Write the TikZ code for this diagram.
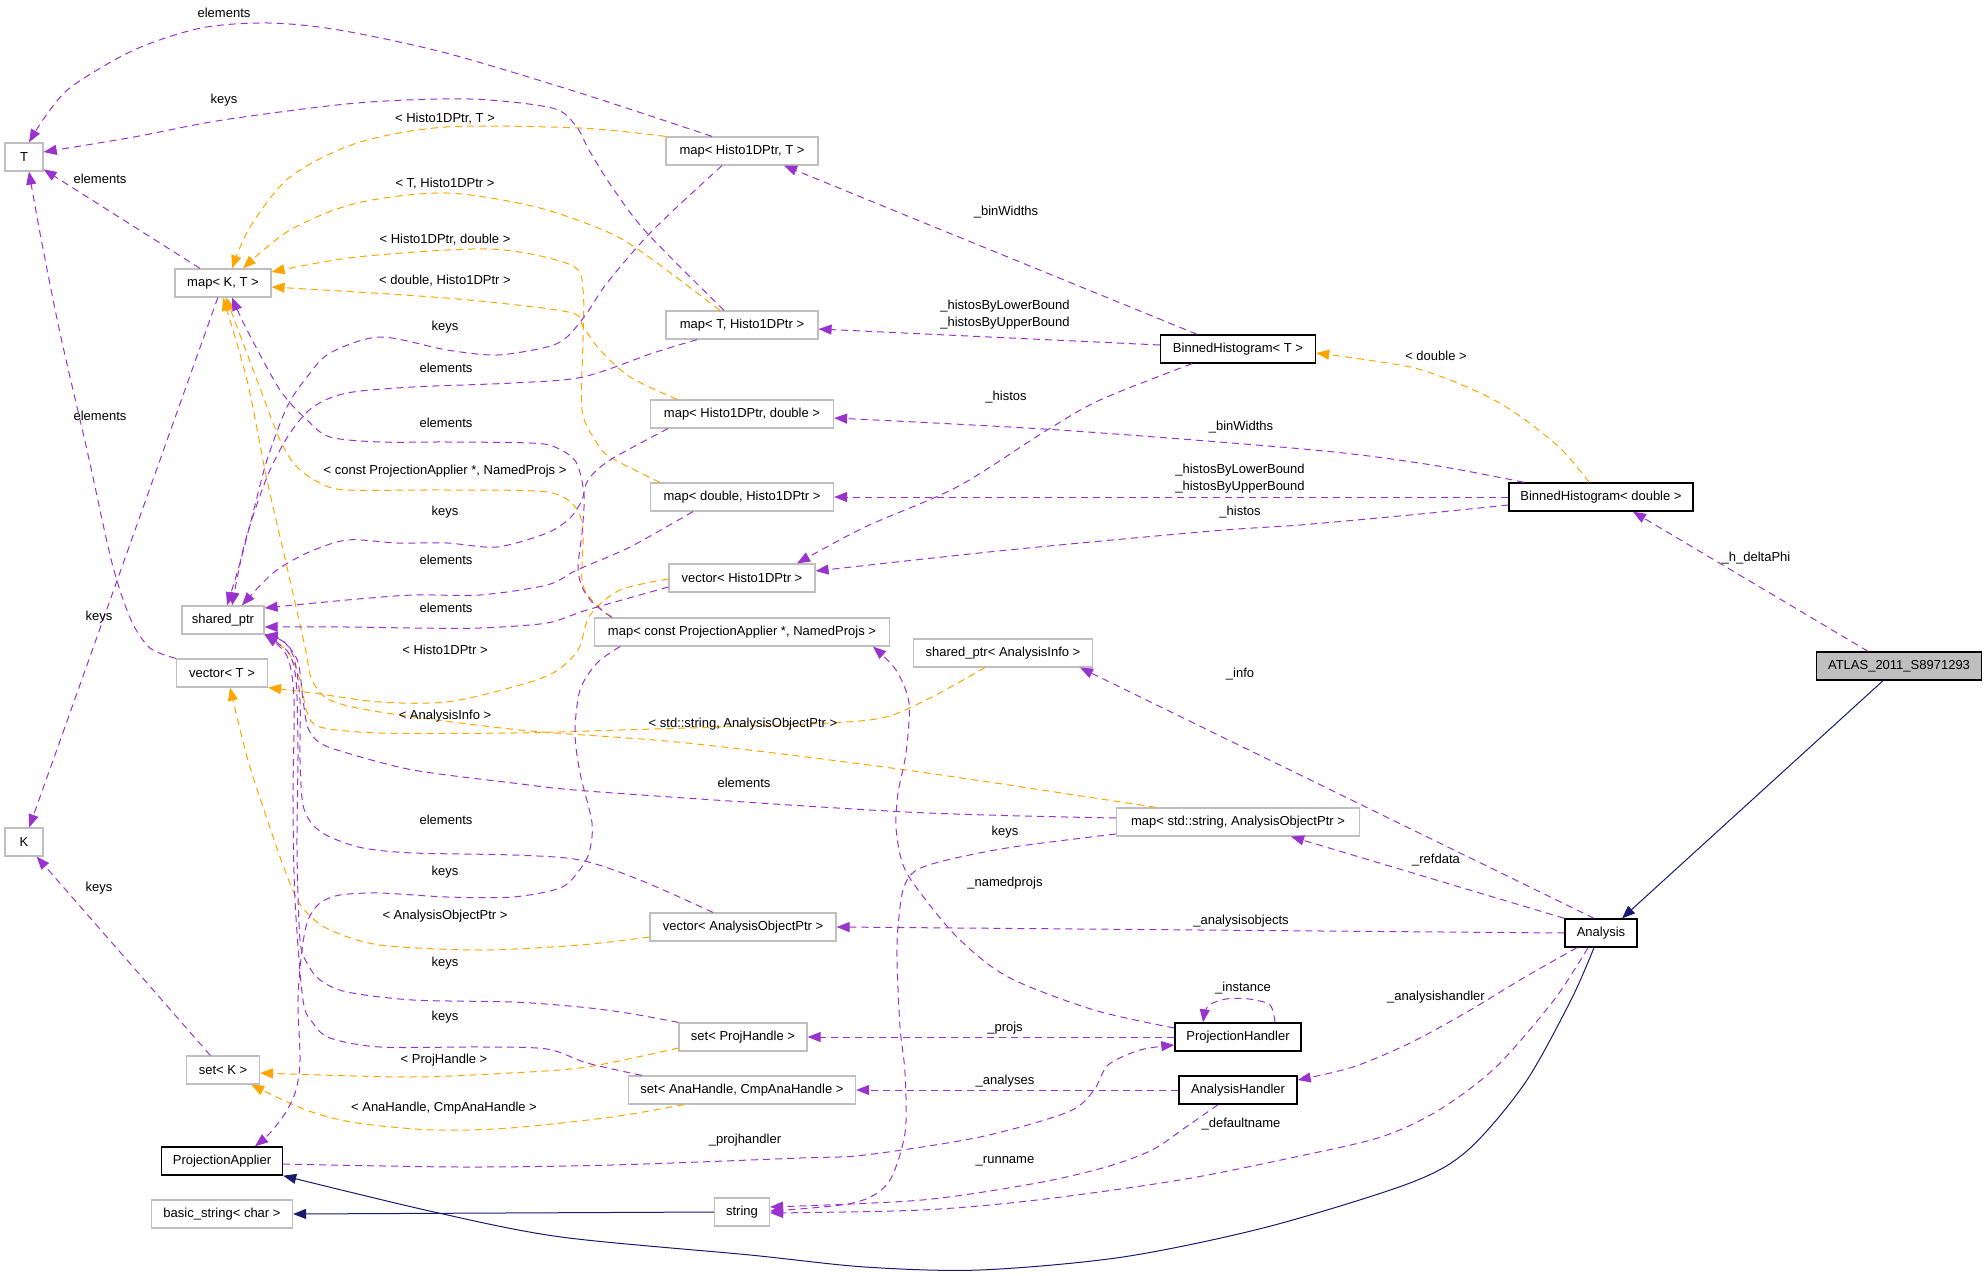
\documentclass[tikz,border=0pt]{standalone}
\usepackage{fontspec}
\newfontfamily\dgfont{Liberation Sans}
\usetikzlibrary{arrows.meta}
\definecolor{usepurple}{HTML}{9A32CD}
\definecolor{tmplorange}{HTML}{FFA500}
\definecolor{inhblue}{HTML}{191970}
\definecolor{boxgray}{HTML}{BFBFBF}
\tikzset{
  cls/.style={draw=boxgray, line width=1.2pt, fill=white, minimum height=28pt, inner sep=0pt,
    font=\dgfont\fontsize{13}{15}\selectfont},
  clsb/.style={cls, draw=black, line width=1.4pt},
  lbl/.style={inner sep=0pt, align=center, font=\dgfont\fontsize{13}{17}\selectfont},
  useedge/.style={draw=usepurple, line width=1pt, dash pattern=on 7pt off 5pt,
    -{Triangle[length=13pt,width=10pt]}},
  tmpledge/.style={useedge, draw=tmplorange},
  inhedge/.style={draw=inhblue, line width=1pt, -{Triangle[length=13pt,width=10pt]}},
  sm/.style={smooth, tension=0.5}
}
\begin{document}
\begin{tikzpicture}[x=1pt, y=-1pt]
  \useasboundingbox (0,0) rectangle (1987,1276);
  % classes
  \node[cls, minimum width=38pt] (T) at (24,157) {T};
  \node[cls, minimum width=38pt] (K) at (24,842) {K};
  \node[cls, minimum width=96pt] (mapKT) at (223,283) {map< K, T >};
  \node[cls, minimum width=82pt] (shared) at (223,620) {shared\_ptr};
  \node[cls, minimum width=91pt] (vecT) at (222,673) {vector< T >};
  \node[cls, minimum width=73pt] (setK) at (223,1070) {set< K >};
  \node[clsb, minimum width=121pt] (PA) at (222,1161) {ProjectionApplier};
  \node[cls, minimum width=141pt] (bstr) at (222,1214) {basic\_string< char >};
  \node[cls, minimum width=152pt] (mapHT) at (742,151) {map< Histo1DPtr, T >};
  \node[cls, minimum width=152pt] (mapTH) at (742,325) {map< T, Histo1DPtr >};
  \node[cls, minimum width=183pt] (mapHD) at (742,414) {map< Histo1DPtr, double >};
  \node[cls, minimum width=183pt] (mapDH) at (742,497) {map< double, Histo1DPtr >};
  \node[cls, minimum width=146pt] (vecH) at (742,578) {vector< Histo1DPtr >};
  \node[cls, minimum width=295pt] (mapCPA) at (742,632) {map< const ProjectionApplier *, NamedProjs >};
  \node[cls, minimum width=179pt] (sharedAI) at (1003,653) {shared\_ptr< AnalysisInfo >};
  \node[cls, minimum width=243pt] (mapSAOP) at (1238,822) {map< std::string, AnalysisObjectPtr >};
  \node[cls, minimum width=186pt] (vecAOP) at (743,927) {vector< AnalysisObjectPtr >};
  \node[cls, minimum width=128pt] (setPH) at (743,1037) {set< ProjHandle >};
  \node[cls, minimum width=227pt] (setAH) at (742,1090) {set< AnaHandle, CmpAnaHandle >};
  \node[cls, minimum width=55pt] (string) at (742,1212) {string};
  \node[clsb, minimum width=155pt] (BHT) at (1238,349) {BinnedHistogram< T >};
  \node[clsb, minimum width=184pt] (BHD) at (1601,497) {BinnedHistogram< double >};
  \node[clsb, fill=boxgray, minimum width=165pt] (ATLAS) at (1899,666) {ATLAS\_2011\_S8971293};
  \node[clsb, minimum width=72pt] (Analysis) at (1601,933) {Analysis};
  \node[clsb, minimum width=126pt] (PH) at (1238,1037) {ProjectionHandler};
  \node[clsb, minimum width=118pt] (AH) at (1238,1090) {AnalysisHandler};

  % template instances
  \begin{scope}[tmpledge]
    \draw plot[sm] coordinates {(mapHT.north west) (580,128) (446,127) (357,143) (290,177) (250,227) ([xshift=9pt]mapKT.north)};
    \draw plot[sm] coordinates {([xshift=-22pt]mapTH.north) (653,260) (610,233) (536,207) (446,193) (357,203) (290,230) ([xshift=20pt]mapKT.north)};
    \draw plot[sm] coordinates {([xshift=-65pt]mapHD.north) (630,377) (600,350) (583,327) (568,312) (446,298) ([yshift=-4pt]mapKT.east)};
    \draw plot[sm] coordinates {([xshift=-82pt]mapDH.north) (610,457) (595,440) (582,410) (583,340) (583,290) (571,265) (491,249) (357,257) ([yshift=11pt]mapKT.east)};
    \draw plot[sm] coordinates {([xshift=-131pt]mapCPA.north) (590,598) (582,580) (583,533) (576,508) (547,492) (447,490) (347,490) (320,483) (297,467) (280,440) (257,380) ([xshift=3pt]mapKT.south)};
    \draw plot[sm] coordinates {([xshift=-82pt]mapSAOP.north) (906,770) (687,743) (520,730) (380,712) (330,700) (312,680) (305,647) (287,567) (267,480) (247,380) (mapKT.south)};
    \draw plot[sm] coordinates {([xshift=-18pt]sharedAI.south) (932,697) (886,717) (830,723) (720,727) (620,730) (513,733) (380,733) (320,727) (307,712) (300,680) (288,652) (shared.south east)};
    \draw plot[sm] coordinates {([yshift=-1pt]vecH.west) (620,590) (590,615) (578,650) (553,673) (513,687) (447,702) (380,702) (313,693) (vecT.south east)};
    \draw plot[sm] coordinates {([yshift=-10pt]vecAOP.west) (580,945) (480,950) (380,945) (330,930) (307,913) (295,895) (280,857) (263,807) (247,757) ([xshift=8pt]vecT.south)};
    \draw plot[sm] coordinates {([yshift=-11pt]setPH.west) (587,1067) (510,1073) (408,1077) ([yshift=-3pt]setK.east)};
    \draw plot[sm] coordinates {([xshift=-58pt]setAH.south) (612,1117) (510,1128) (434,1130) (357,1123) (306,1110) ([xshift=-9pt]setK.south east)};
    \draw plot[sm] coordinates {([xshift=-12pt]BHD.north) (1559,447) (1511,410) (1467,387) (1410,367) ([yshift=-4pt]BHT.east)};
  \end{scope}

  % usage relations
  \begin{scope}[useedge]
    \draw plot[sm] coordinates {([xshift=-30pt]mapHT.north) (580,93) (446,53) (339,30) (268,23) (201,28) (134,50) (71,87) (45,117) ([xshift=5pt]T.north)};
    \draw plot[sm] coordinates {([xshift=-18pt]mapTH.north) (647,233) (612,187) (589,150) (576,126) (552,108) (469,99) (357,103) (223,120) (134,137) ([yshift=5pt]T.east)};
    \draw (mapKT) -- (T);
    \draw plot[sm] coordinates {(vecT.north west) (150,648) (131,620) (112,563) (87,450) (60,333) (40,233) ([xshift=5pt]T.south)};
    \draw (mapKT) -- (K);
    \draw (setK) -- (K);
    \draw plot[sm] coordinates {([xshift=-20pt]mapHT.south) (653,230) (607,283) (587,313) (567,337) (547,347) (497,355) (447,350) (380,337) (330,353) (307,377) (287,407) (267,460) (253,513) (240,563) ([xshift=4pt]shared.north)};
    \draw plot[sm] coordinates {([xshift=-45pt]mapTH.south) (653,353) (583,377) (513,383) (413,387) (347,393) (313,407) (290,433) (270,470) (255,510) (243,550) ([xshift=9pt]shared.north)};
    \draw plot[sm] coordinates {([xshift=-74pt]mapHD.south) (610,460) (588,480) (582,500) (570,518) (547,533) (497,547) (447,543) (397,543) (347,540) (307,553) (273,573) ([xshift=19pt]shared.north)};
    \draw plot[sm] coordinates {([xshift=-49pt]mapDH.south) (630,547) (577,570) (547,585) (480,595) (413,595) (347,600) ([yshift=12pt]shared.east)};
    \draw plot[sm] coordinates {([yshift=-9pt]vecH.west) (587,610) (547,623) (480,628) (413,628) (347,627) ([yshift=-7pt]shared.east)};
    \draw plot[sm] coordinates {([xshift=-130pt]mapCPA.north) (593,603) (582,587) (578,567) (582,533) (584,495) (576,462) (555,447) (530,443) (447,442) (380,442) (330,437) (307,420) (280,390) (247,330) ([xshift=9pt]mapKT.south)};
    \draw plot[sm] coordinates {([yshift=4pt]mapSAOP.west) (906,812) (600,792) (513,783) (413,770) (347,753) (320,743) (308,728) (303,700) (298,662) (284,642) (shared.south east)};
    \draw plot[sm] coordinates {([xshift=-30pt]vecAOP.north) (640,880) (580,860) (513,855) (413,853) (363,848) (330,837) (313,825) (303,805) (300,760) (300,700) (294,658) (282,640) (shared.south east)};
    \draw plot[sm] coordinates {(setPH.north west) (627,1013) (580,1007) (513,1002) (413,1000) (347,992) (320,980) (307,963) (300,940) (297,850) (298,750) (296,680) (288,652) (shared.south east)};
    \draw plot[sm] coordinates {([xshift=14pt]setAH.north west) (587,1063) (547,1049) (480,1047) (380,1047) (330,1038) (313,1023) (303,1000) (295,900) (293,800) (294,700) (287,656) (shared.south east)};
    \draw plot[sm] coordinates {([xshift=-122pt]mapCPA.south) (597,663) (580,690) (575,733) (580,773) (592,823) (589,853) (578,872) (560,888) (513,897) (447,897) (380,893) (340,895) (320,903) (308,920) (302,950) (298,1000) (300,1060) (296,1090) (286,1112) (270,1133) ([xshift=33pt]PA.north)};
    \draw ([xshift=-41pt]BHT.north) -- ([xshift=42pt]mapHT.south);
    \draw ([yshift=4pt]BHT.west) -- ([yshift=-4pt]mapTH.east);
    \draw plot[sm] coordinates {([xshift=-46pt]BHT.south) (1100,400) (1044,432) (957,487) (865,527) ([xshift=55pt]vecH.north)};
    \draw plot[sm] coordinates {([xshift=-77pt]BHD.north) (1432,465) (1314,450) (1059,430) ([yshift=-4pt]mapHD.east)};
    \draw (BHD.west) -- (mapDH.east);
    \draw plot[sm] coordinates {([yshift=-8pt]BHD.west) (1410,515) (1300,525) (1212,531) (1008,550) ([yshift=7pt]vecH.east)};
    \draw ([xshift=-31pt]ATLAS.north) -- ([xshift=32pt]BHD.south);
    \draw ([xshift=-7pt]Analysis.north) -- ([xshift=77pt]sharedAI.south);
    \draw (Analysis.north west) -- ([xshift=53pt]mapSAOP.south);
    \draw (Analysis.west) -- (vecAOP.east);
    \draw plot[sm] coordinates {([xshift=-24pt]Analysis.south) (1525,977) (1467,1012) (1410,1043) (1353,1067) ([yshift=10pt]AH.east)};
    \draw plot[sm] coordinates {([xshift=-13pt]Analysis.south) (1554,1000) (1496,1067) (1439,1110) (1381,1137) (1295,1157) (1180,1180) (1037,1200) (922,1210) ([yshift=-1pt]string.east)};
    \draw plot[sm] coordinates {([xshift=37pt]PH.north) (1270,1005) (1249,999) (1226,999) (1208,1006) ([xshift=-35pt]PH.north)};
    \draw (PH.west) -- (setPH.east);
    \draw plot[sm] coordinates {([yshift=9pt]PH.west) (1094,1010) (1008,977) (957,937) (916,887) (902,862) (896,827) (898,793) (906,753) (909,703) (896,670) ([xshift=131pt]mapCPA.south)};
    \draw plot[sm] coordinates {([yshift=-12pt]mapSAOP.west) (1013,847) (947,860) (915,871) (903,890) (898,927) (897,960) (900,1027) (905,1073) (905,1133) (888,1183) (853,1203) ([yshift=1pt]string.east)};
    \draw plot[sm] coordinates {([yshift=-3pt]PA.east) (459,1167) (612,1165) (800,1158) (865,1155) (980,1137) (1068,1112) (1094,1090) (1108,1065) (1140,1050) ([yshift=-8pt]PH.west)};
    \draw (AH.west) -- (setAH.east);
    \draw plot[sm] coordinates {([xshift=-20pt]AH.south) (1186,1127) (1152,1150) (1106,1167) (1037,1183) (922,1200) ([yshift=5pt]string.east)};
  \end{scope}

  % inheritance
  \begin{scope}[inhedge]
    \draw ([xshift=-16pt]ATLAS.south) -- ([xshift=21pt]Analysis.north);
    \draw plot[sm] coordinates {([xshift=-7pt]Analysis.south) (1571,1000) (1525,1083) (1468,1150) (1410,1183) (1267,1227) (1123,1257) (980,1270) (865,1267) (750,1255) (561,1237) (434,1212) (PA.south east)};
    \draw (string.west) -- (bstr.east);
  \end{scope}

  % edge labels
  \node[lbl] (lA) at (224,13) {elements};
  \node[lbl] (lB) at (224,100) {keys};
  \node[lbl] (lC) at (445,119) {< Histo1DPtr, T >};
  \node[lbl] (lD) at (100,179) {elements};
  \node[lbl] (lE) at (445,184) {< T, Histo1DPtr >};
  \node[lbl] (lF) at (445,240) {< Histo1DPtr, double >};
  \node[lbl] (lG) at (445,281) {< double, Histo1DPtr >};
  \node[lbl] (lH) at (445,327) {keys};
  \node[lbl] (lI) at (446,368) {elements};
  \node[lbl] (lJ) at (100,416) {elements};
  \node[lbl] (lK) at (446,423) {elements};
  \node[lbl] (lL) at (445,471) {< const ProjectionApplier *, NamedProjs >};
  \node[lbl] (lM) at (445,512) {keys};
  \node[lbl] (lN) at (446,560) {elements};
  \node[lbl] (lO) at (446,608) {elements};
  \node[lbl] (lP) at (99,617) {keys};
  \node[lbl] (lQ) at (445,650) {< Histo1DPtr >};
  \node[lbl] (lR) at (445,716) {< AnalysisInfo >};
  \node[lbl] (lS) at (743,724) {< std::string, AnalysisObjectPtr >};
  \node[lbl] (lT) at (744,783) {elements};
  \node[lbl] (lU) at (446,820) {elements};
  \node[lbl] (lV) at (445,872) {keys};
  \node[lbl] (lW) at (99,888) {keys};
  \node[lbl] (lX) at (445,916) {< AnalysisObjectPtr >};
  \node[lbl] (lY) at (445,963) {keys};
  \node[lbl] (lZ) at (445,1017) {keys};
  \node[lbl] (lPH) at (444,1060) {< ProjHandle >};
  \node[lbl] (lAH) at (444,1108) {< AnaHandle, CmpAnaHandle >};
  \node[lbl] (lbw1) at (1006,212) {\_binWidths};
  \node[lbl] (lhb1) at (1005,315) {\_histosByLowerBound\\\_histosByUpperBound};
  \node[lbl] (lhs1) at (1006,397) {\_histos};
  \node[lbl] (lbw2) at (1241,427) {\_binWidths};
  \node[lbl] (lhb2) at (1240,479) {\_histosByLowerBound\\\_histosByUpperBound};
  \node[lbl] (lhs2) at (1240,512) {\_histos};
  \node[lbl] (ldbl) at (1436,356) {< double >};
  \node[lbl] (ldph) at (1756,558) {\_h\_deltaPhi};
  \node[lbl] (linf) at (1240,674) {\_info};
  \node[lbl] (lref) at (1436,860) {\_refdata};
  \node[lbl] (laob) at (1241,921) {\_analysisobjects};
  \node[lbl] (lkey) at (1005,832) {keys};
  \node[lbl] (lnp) at (1005,883) {\_namedprojs};
  \node[lbl] (lins) at (1243,988) {\_instance};
  \node[lbl] (lprj) at (1005,1028) {\_projs};
  \node[lbl] (lah) at (1436,997) {\_analysishandler};
  \node[lbl] (lana) at (1005,1081) {\_analyses};
  \node[lbl] (lphd) at (745,1140) {\_projhandler};
  \node[lbl] (ldef) at (1241,1124) {\_defaultname};
  \node[lbl] (lrun) at (1005,1161) {\_runname};
\end{tikzpicture}
\end{document}
